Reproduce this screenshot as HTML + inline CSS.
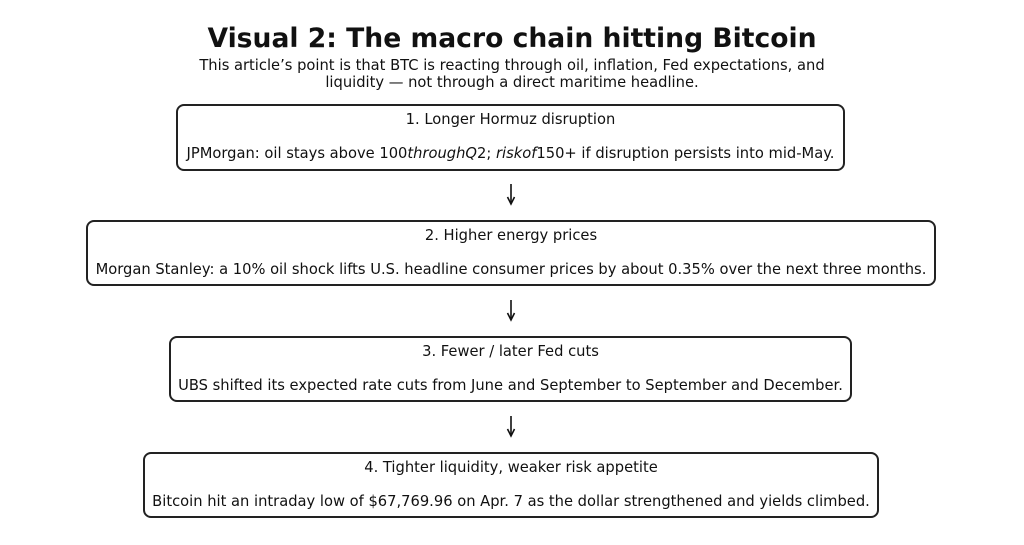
<!DOCTYPE html>
<html><head><meta charset="utf-8"><style>
body{margin:0;width:1024px;height:545px;background:#fff;font-family:"DejaVu Sans","Liberation Sans",sans-serif;color:#111;position:relative;overflow:hidden}
.t{position:absolute;left:0;width:1024px;text-align:center;white-space:nowrap}
.box{position:absolute;border:2px solid #222;border-radius:8px;box-sizing:border-box}
.h,.b{position:absolute;left:0;right:0;text-align:center;white-space:nowrap;font-size:14.7px}
.h{top:5px}.b{top:39px}
svg.a{position:absolute;left:504px;width:14px;height:22px}
</style></head><body>
<div class="t" style="top:23px;font-size:26.6px;font-weight:bold">Visual 2: The macro chain hitting Bitcoin</div>
<div class="t" style="top:57px;font-size:14.7px;line-height:17px">This article’s point is that BTC is reacting through oil, inflation, Fed expectations, and<br>liquidity — not through a direct maritime headline.</div>

<div class="box" style="left:176px;top:104px;width:669px;height:67px">
<div class="h">1. Longer Hormuz disruption</div>
<div class="b">JPMorgan: oil stays above 100<i>throughQ</i>2; <i>riskof</i>150+ if disruption persists into mid-May.</div></div>
<svg class="a" style="top:184px"><line x1="7" y1="0" x2="7" y2="19" stroke="#111" stroke-width="1.6"/><path d="M3.5 13 L7 20 L10.5 13" fill="none" stroke="#111" stroke-width="1.6"/></svg>

<div class="box" style="left:86px;top:220px;width:850px;height:66px">
<div class="h">2. Higher energy prices</div>
<div class="b">Morgan Stanley: a 10% oil shock lifts U.S. headline consumer prices by about 0.35% over the next three months.</div></div>
<svg class="a" style="top:300px"><line x1="7" y1="0" x2="7" y2="19" stroke="#111" stroke-width="1.6"/><path d="M3.5 13 L7 20 L10.5 13" fill="none" stroke="#111" stroke-width="1.6"/></svg>

<div class="box" style="left:169px;top:336px;width:683px;height:66px">
<div class="h">3. Fewer / later Fed cuts</div>
<div class="b">UBS shifted its expected rate cuts from June and September to September and December.</div></div>
<svg class="a" style="top:416px"><line x1="7" y1="0" x2="7" y2="19" stroke="#111" stroke-width="1.6"/><path d="M3.5 13 L7 20 L10.5 13" fill="none" stroke="#111" stroke-width="1.6"/></svg>

<div class="box" style="left:143px;top:452px;width:736px;height:66px">
<div class="h">4. Tighter liquidity, weaker risk appetite</div>
<div class="b">Bitcoin hit an intraday low of $67,769.96 on Apr. 7 as the dollar strengthened and yields climbed.</div></div>
</body></html>
